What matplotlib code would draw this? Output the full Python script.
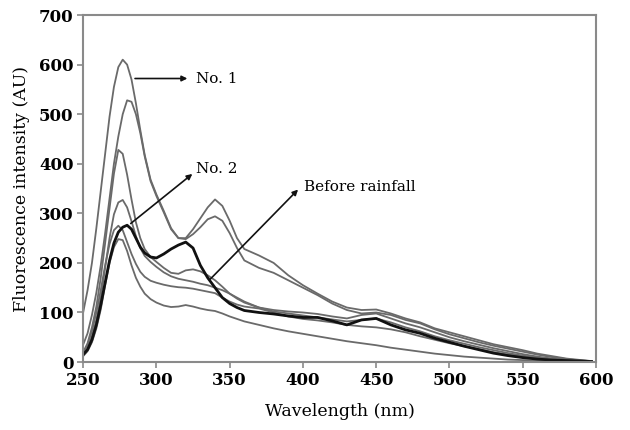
import matplotlib
matplotlib.use("Agg")
import matplotlib.pyplot as plt

plt.rcParams['font.family'] = ['DejaVu Serif']

wavelength = [250, 253, 256, 259, 262, 265, 268, 271, 274, 277, 280, 283, 286, 289, 292, 296,
              300, 305, 310, 315, 320, 325, 330, 335, 340, 345, 350, 355, 360, 370, 380, 390,
              400, 410, 420, 430, 440, 450, 460, 470, 480, 490, 500, 510, 520, 530, 540, 550,
              560, 570, 580, 590, 597]

no1 = [100, 145, 200, 270, 345, 420, 495, 555, 595, 610, 600, 570, 522, 468, 418, 368,
       338, 305, 270, 250, 250, 268, 290, 312, 328, 315, 285, 250, 228, 215, 200, 175,
       155, 138, 122, 110, 105, 106, 98, 88, 80, 68, 60, 52, 44, 36, 30, 24,
       17, 12, 7, 4, 2]
s2 = [35, 58, 95, 140, 195, 260, 330, 400, 455, 500, 528, 525, 500, 462, 415, 365,
      335, 302, 268, 250, 248, 258, 272, 288, 294, 285, 260, 230, 205, 190, 180, 165,
      150, 135, 118, 105, 98, 100, 95, 85, 78, 66, 56, 48, 40, 33, 27, 21,
      15, 10, 6, 3, 2]
s3 = [20, 38, 70, 112, 170, 240, 310, 380, 428, 420, 378, 328, 282, 250, 228, 212,
      202, 190, 180, 178, 185, 187, 183, 175, 165, 152, 138, 128, 120, 110, 105, 102,
      100, 97, 92, 88, 95, 98, 88, 78, 70, 60, 50, 42, 35, 28, 22, 16,
      11, 7, 4, 2, 1]
s4 = [15, 28, 52, 85, 130, 190, 250, 298, 322, 327, 312, 284, 254, 230, 214, 202,
      192, 181, 173, 168, 165, 162, 158, 155, 150, 145, 138, 130, 122, 110, 102, 98,
      94, 90, 86, 82, 85, 88, 80, 70, 62, 52, 44, 37, 30, 24, 18, 13,
      9, 6, 3, 2, 1]
before = [15, 25, 45, 75, 115, 160, 205, 240, 262, 272, 276, 268, 250, 232, 220, 212,
          210, 218, 228, 236, 242, 230, 195, 170, 150, 130, 118, 110, 104, 100, 97, 93,
          90, 90, 83, 75, 85, 88, 75, 65, 58, 48, 40, 32, 25, 18, 13, 9,
          6, 4, 3, 2, 1]
no2 = [18, 35, 62, 100, 145, 195, 238, 266, 275, 266, 242, 218, 198, 182, 172, 164,
       160, 156, 153, 151, 150, 148, 145, 142, 139, 130, 122, 116, 112, 108, 100, 92,
       87, 84, 80, 75, 72, 70, 66, 60, 52, 45, 38, 32, 26, 20, 15, 11,
       8, 5, 3, 2, 1]
s7 = [12, 22, 40, 68, 106, 155, 200, 232, 248, 246, 224, 195, 170, 152, 138, 127,
      120, 114, 111, 112, 115, 112, 108, 105, 103, 98, 92, 87, 82, 75, 68, 62,
      57, 52, 47, 42, 38, 34, 29, 25, 21, 17, 14, 11, 9, 7, 5, 4,
      3, 2, 2, 1, 1]

gray_series = [no1, s2, s3, s4, no2, s7]

fig = plt.figure(figsize=(6.3, 4.3), dpi=100)
ax = fig.add_axes([0.132, 0.158, 0.814, 0.807])

for s in gray_series:
    ax.plot(wavelength, s, color='#6a6a6a', lw=1.3)
ax.plot(wavelength, before, color='#111111', lw=2.0)

ax.set_xlim(250, 600)
ax.set_ylim(0, 700)
ax.set_xticks(range(250, 601, 50))
ax.set_yticks(range(0, 701, 100))

for sp in ax.spines.values():
    sp.set_color('#8a8a8a')
    sp.set_linewidth(1.5)
ax.tick_params(axis='both', direction='out', length=4, width=1.2, color='#8a8a8a',
               labelsize=12, pad=3)
for lab in ax.get_xticklabels() + ax.get_yticklabels():
    lab.set_fontweight('bold')

ax.set_xlabel('Wavelength (nm)', fontsize=12.5, labelpad=10)
ax.set_ylabel('Fluorescence intensity (AU)', fontsize=12.5, labelpad=6)

arrow = dict(arrowstyle='-|>', color='#111111', lw=1.2, mutation_scale=8)
ax.annotate('', xy=(323, 572), xytext=(283.5, 572), arrowprops=arrow)
ax.text(327, 572, 'No. 1', fontsize=11, va='center', ha='left')

ax.annotate('', xy=(326, 383), xytext=(281, 276), arrowprops=arrow)
ax.text(327, 389, 'No. 2', fontsize=11, va='center', ha='left')

ax.annotate('', xy=(398, 352), xytext=(335, 162), arrowprops=arrow)
ax.text(401, 353, 'Before rainfall', fontsize=11, va='center', ha='left')

fig.savefig('out.png', dpi=100)
